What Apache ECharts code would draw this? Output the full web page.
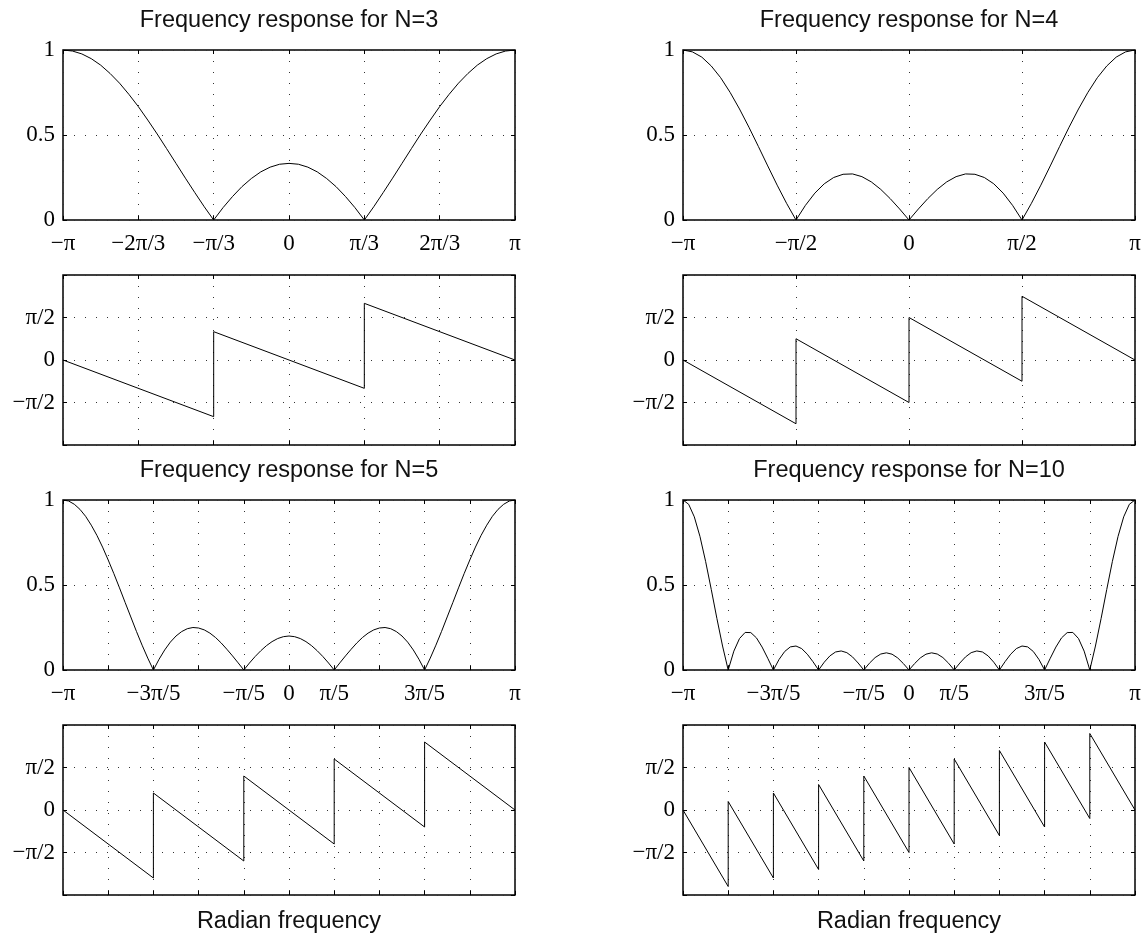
<!DOCTYPE html>
<html><head><meta charset="utf-8">
<script src="https://cdn.jsdelivr.net/npm/echarts@6/dist/echarts.min.js"></script>
<style>html,body{margin:0;padding:0;background:#fff}#c{width:1148px;height:940px}</style>
</head><body><div id="c"></div>
<script>
// Frequencies are numerators: omega = n / den * pi
const freq24 = [-24,-23,-22,-21,-20,-19,-18,-17,-16,-15,-14,-13,-12,-11,-10,-9,-8,-7,-6,-5,-4,-3,-2,-1,0,1,2,3,4,5,6,7,8,9,10,11,12,13,14,15,16,17,18,19,20,21,22,23,24];
const freq40 = [-40,-39,-38,-37,-36,-35,-34,-33,-32,-31,-30,-29,-28,-27,-26,-25,-24,-23,-22,-21,-20,-19,-18,-17,-16,-15,-14,-13,-12,-11,-10,-9,-8,-7,-6,-5,-4,-3,-2,-1,0,1,2,3,4,5,6,7,8,9,10,11,12,13,14,15,16,17,18,19,20,21,22,23,24,25,26,27,28,29,30,31,32,33,34,35,36,37,38,39,40];

// Magnitude responses
const mag3 = [1,0.994,0.977,0.949,0.911,0.862,0.805,0.739,0.667,0.588,0.506,0.420,0.333,0.246,0.161,0.078,0,0.073,0.138,0.196,0.244,0.283,0.311,0.328,0.333,0.328,0.311,0.283,0.244,0.196,0.138,0.073,0,0.078,0.161,0.246,0.333,0.420,0.506,0.588,0.667,0.739,0.805,0.862,0.911,0.949,0.977,0.994,1];
const mag4 = [1,0.989,0.958,0.906,0.837,0.751,0.653,0.546,0.433,0.318,0.205,0.098,0,0.086,0.158,0.213,0.250,0.269,0.271,0.255,0.224,0.180,0.126,0.065,0,0.065,0.126,0.180,0.224,0.255,0.271,0.269,0.250,0.213,0.158,0.086,0,0.098,0.205,0.318,0.433,0.546,0.653,0.751,0.837,0.906,0.958,0.989,1];
const mag5 = [1,0.994,0.975,0.945,0.904,0.852,0.792,0.723,0.647,0.567,0.483,0.397,0.312,0.227,0.146,0.070,0,0.063,0.118,0.164,0.200,0.226,0.243,0.250,0.247,0.236,0.217,0.191,0.159,0.122,0.083,0.042,0,0.041,0.079,0.113,0.143,0.167,0.185,0.196,0.200,0.196,0.185,0.167,0.143,0.113,0.079,0.041,0,0.042,0.083,0.122,0.159,0.191,0.217,0.236,0.247,0.250,0.243,0.226,0.200,0.164,0.118,0.063,0,0.070,0.146,0.227,0.312,0.397,0.483,0.567,0.647,0.723,0.792,0.852,0.904,0.945,0.975,0.994,1];
const mag10 = [1,0.975,0.901,0.786,0.639,0.474,0.303,0.141,0,0.111,0.185,0.221,0.220,0.189,0.135,0.069,0,0.062,0.109,0.136,0.141,0.126,0.093,0.049,0,0.046,0.083,0.106,0.112,0.102,0.077,0.041,0,0.040,0.073,0.094,0.101,0.093,0.071,0.038,0,0.038,0.071,0.093,0.101,0.094,0.073,0.040,0,0.041,0.077,0.102,0.112,0.106,0.083,0.046,0,0.049,0.093,0.126,0.141,0.136,0.109,0.062,0,0.069,0.135,0.189,0.220,0.221,0.185,0.111,0,0.141,0.303,0.474,0.639,0.786,0.901,0.975,1];

// Phase responses: breakpoints [omega/pi, phase/pi]
const phase3 = [[-1,0],[-0.3333,-0.6667],[-0.3333,0.3333],[0.3333,-0.3333],[0.3333,0.6667],[1,0]];
const phase4 = [[-1,0],[-0.5,-0.75],[-0.5,0.25],[0,-0.5],[0,0.5],[0.5,-0.25],[0.5,0.75],[1,0]];
const phase5 = [[-1,0],[-0.6,-0.8],[-0.6,0.2],[-0.2,-0.6],[-0.2,0.4],[0.2,-0.4],[0.2,0.6],[0.6,-0.2],[0.6,0.8],[1,0]];
const phase10 = [[-1,0],[-0.8,-0.9],[-0.8,0.1],[-0.6,-0.8],[-0.6,0.2],[-0.4,-0.7],[-0.4,0.3],[-0.2,-0.6],[-0.2,0.4],[0,-0.5],[0,0.5],[0.2,-0.4],[0.2,0.6],[0.4,-0.3],[0.4,0.7],[0.6,-0.2],[0.6,0.8],[0.8,-0.1],[0.8,0.9],[1,0]];

// Tick labels
const xLabels3 = ['\u2212\u03c0','\u22122\u03c0/3','\u2212\u03c0/3','0','\u03c0/3','2\u03c0/3','\u03c0'];
const xLabels4 = ['\u2212\u03c0','\u2212\u03c0/2','0','\u03c0/2','\u03c0'];
const xLabels5 = ['\u2212\u03c0','','\u22123\u03c0/5','','\u2212\u03c0/5','0','\u03c0/5','','3\u03c0/5','','\u03c0'];
const xLabels10 = ['\u2212\u03c0','','\u22123\u03c0/5','','\u2212\u03c0/5','0','\u03c0/5','','3\u03c0/5','','\u03c0'];
const magYLabels = ['0','0.5','1'];
const phaseYLabels = ['','\u2212\u03c0/2','0','\u03c0/2',''];
const titles = ['Frequency response for N=3','Frequency response for N=4','Frequency response for N=5','Frequency response for N=10'];
const xLabelText = 'Radian frequency';

const panels = [
  {title: titles[0], col: 0, row: 0, den: 3, labels: xLabels3, freq: freq24, fden: 24, mag: mag3, phase: phase3},
  {title: titles[1], col: 1, row: 0, den: 2, labels: xLabels4, freq: freq24, fden: 24, mag: mag4, phase: phase4},
  {title: titles[2], col: 0, row: 1, den: 5, labels: xLabels5, freq: freq40, fden: 40, mag: mag5, phase: phase5},
  {title: titles[3], col: 1, row: 1, den: 5, labels: xLabels10, freq: freq40, fden: 40, mag: mag10, phase: phase10}
];

const LEFTS = [63, 683], W = 452, H = 170, ROWTOP = [50, 500], PHASE_OFF = 225;
const serif = '"Liberation Serif", "Times New Roman", serif';
const sans = '"Liberation Sans", Arial, Helvetica, sans-serif';
const dotted = {show: true, lineStyle: {color: '#333', width: 1, type: [1, 10]}};
const tick = {show: true, inside: true, length: 4, lineStyle: {color: '#000', width: 1}};

const grids = [], xAxes = [], yAxes = [], series = [], graphics = [];

function addPanel(left, top, den, xlabels, ymin, yint, ylabels, data) {
  const g = grids.length;
  grids.push({left: left, top: top, width: W, height: H, show: true, borderColor: '#000', borderWidth: 1.5, backgroundColor: 'transparent'});
  const xb = {type: 'value', gridIndex: g, min: -1, max: 1, interval: 1 / den};
  xAxes.push(Object.assign({}, xb, {
    position: 'bottom', axisLine: {show: false, onZero: false}, axisTick: tick, splitLine: dotted,
    axisLabel: xlabels ? {show: true, margin: 12, color: '#000', fontFamily: serif, fontSize: 23,
      showMinLabel: true, showMaxLabel: true,
      formatter: v => { const s = xlabels[Math.round(v * den) + den]; return s === undefined ? '' : s; }} : {show: false}
  }));
  xAxes.push(Object.assign({}, xb, {
    position: 'top', axisLine: {show: false, onZero: false}, axisTick: tick, splitLine: {show: false}, axisLabel: {show: false}
  }));
  const yb = {type: 'value', gridIndex: g, min: ymin, max: 1, interval: yint};
  yAxes.push(Object.assign({}, yb, {
    position: 'left', axisLine: {show: false, onZero: false}, axisTick: tick, splitLine: dotted,
    axisLabel: {show: true, margin: 8, color: '#000', fontFamily: serif, fontSize: 23, showMinLabel: true, showMaxLabel: true,
      formatter: v => { const s = ylabels[Math.round((v - ymin) / yint)]; return s === undefined ? '' : s; }}
  }));
  yAxes.push(Object.assign({}, yb, {
    position: 'right', axisLine: {show: false, onZero: false}, axisTick: tick, splitLine: {show: false}, axisLabel: {show: false}
  }));
  series.push({type: 'line', xAxisIndex: 2 * g, yAxisIndex: 2 * g, data: data, showSymbol: false, symbol: 'none',
    lineStyle: {color: '#000', width: 1}, animation: false, silent: true, clip: true});
}

panels.forEach(p => {
  const left = LEFTS[p.col], top = ROWTOP[p.row];
  const magData = p.freq.map((n, i) => [n / p.fden, p.mag[i]]);
  addPanel(left, top, p.den, p.labels, 0, 0.5, magYLabels, magData);
  addPanel(left, top + PHASE_OFF, p.den, null, -1, 0.5, phaseYLabels, p.phase);
  graphics.push({type: 'text', x: left + W / 2, y: top - 29, silent: true,
    style: {text: p.title, fill: '#111', font: '23.5px ' + sans, align: 'center', verticalAlign: 'middle', textAlign: 'center', textVerticalAlign: 'middle'}});
  if (p.row === 1) {
    graphics.push({type: 'text', x: left + W / 2, y: top + PHASE_OFF + H + 27, silent: true,
      style: {text: xLabelText, fill: '#111', font: '23.5px ' + sans, align: 'center', verticalAlign: 'middle', textAlign: 'center', textVerticalAlign: 'middle'}});
  }
});

const chart = echarts.init(document.getElementById('c'), null, {renderer: 'canvas'});
chart.setOption({
  animation: false,
  backgroundColor: '#fff',
  grid: grids, xAxis: xAxes, yAxis: yAxes, series: series, graphic: graphics
});
</script>
</body></html>
